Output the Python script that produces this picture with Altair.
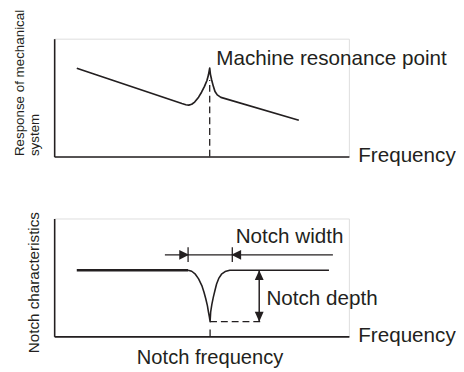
import altair as alt
import pandas as pd

INK = "#231f20"
FONT = "Liberation Sans"

# ---------------- top panel: response of mechanical system ----------------
resp_freq = [23, 130, 134, 137, 140, 143, 147, 150, 153, 155.5, 157, 158.3,
             159, 160.3, 162, 163.7, 166, 169.7, 249]
resp_val = [90, 54, 52.8, 52.4, 53.3, 55.5, 60.5, 65.5, 71.5, 77.5, 83, 90,
            84, 78, 71.5, 66.3, 62.8, 60.3, 37]
resonance_freq = [158.3]
resonance_top = [78]
resonance_label = ["Machine resonance point"]
resonance_label_pos = [(165, 93)]

# ---------------- bottom panel: notch characteristics ----------------
flat_left_freq = [23, 136.3]
flat_left_val = [67.3, 67.3]
notch_freq = [136.3, 140, 143.7, 147, 150.3, 152.5, 154.3, 156, 157, 158, 158.7,
              159.3, 160.5, 162, 163.7, 165.3, 167.5, 170.3, 174, 178.7, 279.7]
notch_val = [67.3, 66.3, 63.3, 58.5, 51.7, 45, 38.3, 31, 25, 19.5, 15,
             25, 32.5, 40, 47, 53.3, 59, 63.3, 66, 67.3, 67.3]
notch_center = [158.7]
notch_bottom = [15]
depth_x = [208.7]
depth_top = [67.3]
width_line = [112.7, 283.7]
width_y = [83]
width_edges = [136.3, 181.3]
width_tick = [75.7, 90.7]
notch_labels = ["Notch width", "Notch depth"]
notch_label_pos = [(184.7, 94.7), (216, 32.3)]
notch_freq_label = ["Notch frequency"]

X = alt.Scale(domain=[0, 300], nice=False, zero=False)
Y = alt.Scale(domain=[0, 120], nice=False, zero=False)

def xaxis():
    return alt.Axis(domain=True, domainColor=INK, domainWidth=1.6, ticks=False,
                    labels=False, grid=False, title="Frequency", titleX=309,
                    titleY=5.5, titleAlign="left", titleBaseline="alphabetic",
                    titleAngle=0, titleFont=FONT, titleFontSize=21,
                    titleFontWeight="normal", titleColor=INK)

def yaxis(title, tx, ty, size):
    return alt.Axis(domain=True, domainColor=INK, domainWidth=1.6, ticks=False,
                    labels=False, grid=False, title=title, titleAngle=270,
                    titleX=tx, titleY=ty, titleAlign="left",
                    titleBaseline="alphabetic", titleFont=FONT,
                    titleFontSize=size, titleFontWeight="normal",
                    titleColor=INK, titleLineHeight=15.5)

# --- top panel layers
df_resp = pd.DataFrame({"f": resp_freq, "r": resp_val, "o": range(len(resp_freq))})
frame_top = alt.Chart(pd.DataFrame({"f": [0], "r": [0]})).mark_point(opacity=0).encode(
    x=alt.X("f:Q", scale=X, axis=xaxis()),
    y=alt.Y("r:Q", scale=Y, axis=yaxis(["Response of mechanical", "system"], -31, 119, 13.6)),
)
curve_top = alt.Chart(df_resp).mark_line(color=INK, strokeWidth=1.7, strokeJoin="round").encode(
    x=alt.X("f:Q", scale=X), y=alt.Y("r:Q", scale=Y), order="o:Q")
res_rule = alt.Chart(pd.DataFrame({"f": resonance_freq, "y0": [0], "y1": resonance_top})).mark_rule(
    color=INK, strokeWidth=1.3, strokeDash=[7, 4]).encode(
    x=alt.X("f:Q", scale=X), y=alt.Y("y0:Q", scale=Y), y2="y1:Q")
res_text = alt.Chart(pd.DataFrame({"t": resonance_label,
                                   "f": [p[0] for p in resonance_label_pos],
                                   "r": [p[1] for p in resonance_label_pos]})).mark_text(
    align="left", baseline="alphabetic", font=FONT, fontSize=21, color=INK).encode(
    x=alt.X("f:Q", scale=X), y=alt.Y("r:Q", scale=Y), text="t:N")
top = alt.layer(frame_top, curve_top, res_rule, res_text).properties(width=300, height=120)

# --- bottom panel layers
frame_bot = alt.Chart(pd.DataFrame({"f": [0], "r": [0]})).mark_point(opacity=0).encode(
    x=alt.X("f:Q", scale=X, axis=xaxis()),
    y=alt.Y("r:Q", scale=Y, axis=yaxis("Notch characteristics", -16.3, 136.7, 15.5)),
)
flat_left = alt.Chart(pd.DataFrame({"f": flat_left_freq, "r": flat_left_val})).mark_line(
    color=INK, strokeWidth=2.4).encode(x=alt.X("f:Q", scale=X), y=alt.Y("r:Q", scale=Y))
df_notch = pd.DataFrame({"f": notch_freq, "r": notch_val, "o": range(len(notch_freq))})
notch = alt.Chart(df_notch).mark_line(color=INK, strokeWidth=1.6, strokeJoin="round").encode(
    x=alt.X("f:Q", scale=X), y=alt.Y("r:Q", scale=Y), order="o:Q")
depth_dash = alt.Chart(pd.DataFrame({"f0": notch_center, "f1": [212], "r": notch_bottom})).mark_rule(
    color=INK, strokeWidth=1.3, strokeDash=[7, 4]).encode(
    x=alt.X("f0:Q", scale=X), x2="f1:Q", y=alt.Y("r:Q", scale=Y))
center_tick = alt.Chart(pd.DataFrame({"f": notch_center, "y0": [0], "y1": [7]})).mark_rule(
    color=INK, strokeWidth=1.3).encode(
    x=alt.X("f:Q", scale=X), y=alt.Y("y0:Q", scale=Y), y2="y1:Q")
depth_rule = alt.Chart(pd.DataFrame({"f": depth_x, "y0": notch_bottom, "y1": depth_top})).mark_rule(
    color=INK, strokeWidth=1.5).encode(
    x=alt.X("f:Q", scale=X), y=alt.Y("y0:Q", scale=Y), y2="y1:Q")
width_rule = alt.Chart(pd.DataFrame({"f0": [width_line[0]], "f1": [width_line[1]], "r": width_y})).mark_rule(
    color=INK, strokeWidth=1.3).encode(
    x=alt.X("f0:Q", scale=X), x2="f1:Q", y=alt.Y("r:Q", scale=Y))
edge_rules = alt.Chart(pd.DataFrame({"f": width_edges, "y0": [width_tick[0]] * 2,
                                     "y1": [width_tick[1]] * 2})).mark_rule(
    color=INK, strokeWidth=1.3).encode(
    x=alt.X("f:Q", scale=X), y=alt.Y("y0:Q", scale=Y), y2="y1:Q")

UP = "M0,-1L-0.45,0L0.45,0Z"
DOWN = "M0,1L-0.45,0L0.45,0Z"
RIGHT = "M1,0L0,-0.5L0,0.5Z"
LEFT = "M-1,0L0,-0.5L0,0.5Z"
arrow_df = pd.DataFrame({
    "f": [depth_x[0], depth_x[0], width_edges[0] - 9, width_edges[1] + 9],
    "r": [depth_top[0] - 10, notch_bottom[0] + 10, width_y[0], width_y[0]],
    "d": ["up", "down", "right", "left"],
})
arrows = alt.Chart(arrow_df).mark_point(filled=True, opacity=1, color=INK, size=400, strokeWidth=0).encode(
    x=alt.X("f:Q", scale=X), y=alt.Y("r:Q", scale=Y),
    shape=alt.Shape("d:N", scale=alt.Scale(domain=["up", "down", "right", "left"],
                                           range=[UP, DOWN, RIGHT, LEFT]), legend=None))
labels_df = pd.DataFrame({"t": notch_labels, "f": [p[0] for p in notch_label_pos],
                          "r": [p[1] for p in notch_label_pos]})
labels = alt.Chart(labels_df).mark_text(align="left", baseline="alphabetic", font=FONT,
                                        fontSize=21, color=INK).encode(
    x=alt.X("f:Q", scale=X), y=alt.Y("r:Q", scale=Y), text="t:N")
freq_label = alt.Chart(pd.DataFrame({"t": notch_freq_label, "f": notch_center, "r": [-27.7]})).mark_text(
    align="center", baseline="alphabetic", font=FONT, fontSize=20.5, color=INK).encode(
    x=alt.X("f:Q", scale=X), y=alt.Y("r:Q", scale=Y), text="t:N")

bottom = alt.layer(frame_bot, flat_left, notch, depth_dash, center_tick, depth_rule,
                   width_rule, edge_rules, arrows, labels, freq_label).properties(width=300, height=120)

chart = alt.vconcat(top, bottom, spacing=63, bounds="flush").properties(
    padding={"left": 4, "top": -3, "right": 0, "bottom": 0}
).configure_view(stroke=None).configure(background="white")

chart.save("out.html", embed_options={"renderer": "svg", "actions": False})
